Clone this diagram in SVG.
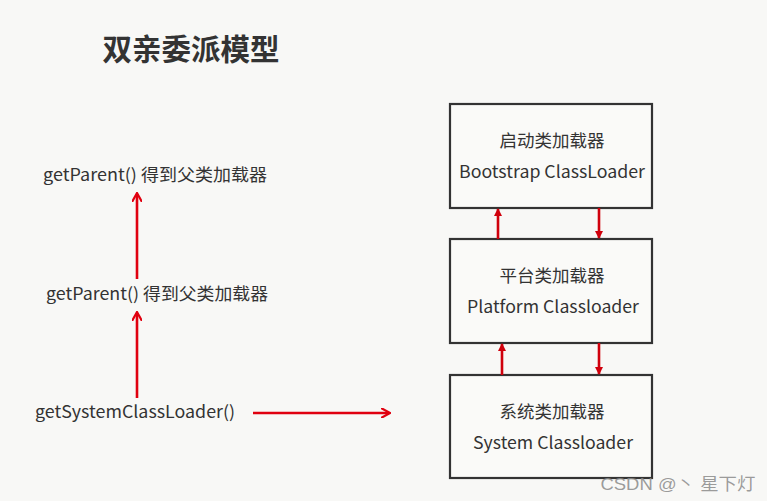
<svg xmlns="http://www.w3.org/2000/svg" width="767" height="501" viewBox="0 0 767 501">
<defs>
<marker id="ah" markerWidth="10" markerHeight="10" refX="8" refY="5" orient="auto" markerUnits="userSpaceOnUse">
<path d="M0,0 L9,5 L0,10" fill="none" stroke="#e0000f" stroke-width="2.2"/>
</marker>
<marker id="ahs" markerWidth="8" markerHeight="8" refX="7" refY="4" orient="auto" markerUnits="userSpaceOnUse">
<path d="M0,0 L8,4 L0,8 Z" fill="#d0000c"/>
</marker>
<style>
.t{font-family:"Noto Sans CJK SC","Open Sans",sans-serif;fill:#333;}
.box{fill:#fafaf8;stroke:#333;stroke-width:2.2;}
.ar{stroke:#e0000f;stroke-width:2.6;fill:none;marker-end:url(#ah);}
.ars{stroke:#d0000c;stroke-width:2.6;fill:none;marker-end:url(#ahs);}
</style>
</defs>
<rect width="767" height="501" fill="#f8f8f6"/>
<text class="t" x="191" y="60" text-anchor="middle" font-size="29.5" font-weight="bold" fill="#3a3a3a">双亲委派模型</text>
<g id="lbl1"><text class="t" x="155" y="181" text-anchor="middle" font-size="17" textLength="224" lengthAdjust="spacingAndGlyphs">getParent() 得到父类加载器</text></g>
<g id="lbl2"><text class="t" x="157" y="300" text-anchor="middle" font-size="17" textLength="222" lengthAdjust="spacingAndGlyphs">getParent() 得到父类加载器</text></g>
<g id="lbl3"><text class="t" x="135" y="418" text-anchor="middle" font-size="17" textLength="200" lengthAdjust="spacingAndGlyphs">getSystemClassLoader()</text></g>
<g id="boot"><rect class="box" x="450" y="104" width="202" height="104"/>
<text class="t" x="552" y="147" text-anchor="middle" font-size="17.5">启动类加载器</text>
<text class="t" x="552" y="178" text-anchor="middle" font-size="17" textLength="186" lengthAdjust="spacingAndGlyphs">Bootstrap ClassLoader</text></g>
<g id="plat"><rect class="box" x="450" y="239" width="202" height="104"/>
<text class="t" x="552" y="282" text-anchor="middle" font-size="17.5">平台类加载器</text>
<text class="t" x="553" y="313" text-anchor="middle" font-size="17" textLength="172" lengthAdjust="spacingAndGlyphs">Platform Classloader</text></g>
<g id="sys"><rect class="box" x="450" y="375" width="202" height="103"/>
<text class="t" x="552" y="418" text-anchor="middle" font-size="17.5">系统类加载器</text>
<text class="t" x="553" y="449" text-anchor="middle" font-size="17" textLength="160" lengthAdjust="spacingAndGlyphs">System Classloader</text></g>
<g id="connectors">
<line class="ar" x1="137" y1="279" x2="137" y2="194"/>
<line class="ar" x1="137" y1="398" x2="137" y2="313"/>
<line class="ar" x1="253" y1="413" x2="389" y2="413"/>
<line class="ars" x1="498" y1="239" x2="498" y2="209"/>
<line class="ars" x1="599" y1="208" x2="599" y2="238"/>
<line class="ars" x1="502" y1="375" x2="502" y2="344"/>
<line class="ars" x1="599" y1="343" x2="599" y2="374"/>
</g>
<text x="678" y="490" text-anchor="middle" font-family="'Liberation Sans','Noto Sans CJK SC',sans-serif" font-size="17" fill="#8a8a8a" fill-opacity="0.85" textLength="155" lengthAdjust="spacingAndGlyphs">CSDN @丶 星下灯</text>
</svg>
